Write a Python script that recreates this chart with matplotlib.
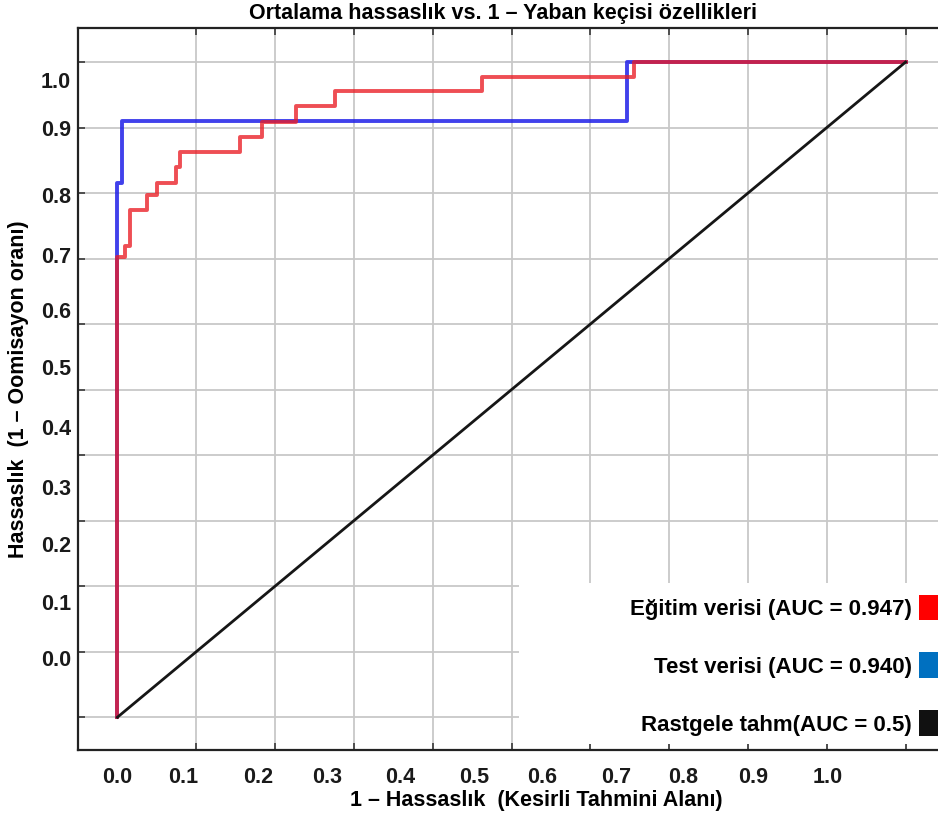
import numpy as np
import matplotlib
matplotlib.use('Agg')
import matplotlib.pyplot as plt
from matplotlib.patches import Patch, Rectangle

plt.rcParams['font.family'] = ['Liberation Sans', 'DejaVu Sans']
plt.rcParams['font.weight'] = 'bold'

# ROC egrileri (kose noktalari, steps-pre ile cizilir)
egitim_fpr = [0.0, 0.010, 0.0165, 0.038, 0.050, 0.074, 0.079, 0.155, 0.184, 0.226, 0.276, 0.463, 0.656, 1.0]
egitim_tpr = [0.0, 0.702, 0.720, 0.774, 0.797, 0.815, 0.840, 0.863, 0.886, 0.909, 0.933, 0.956, 0.977, 1.0]
test_fpr = [0.0, 0.006, 0.647, 1.0]
test_tpr = [0.0, 0.815, 0.910, 1.0]
rastgele = [0.0, 1.0]

etiketler = ['Eğitim verisi (AUC = 0.947)', 'Test verisi (AUC = 0.940)', 'Rastgele tahm(AUC = 0.5)']
renkler = ['#ff0000', '#0070c0', '#111111']

# eksen yazilari (resimdeki gibi kaymis konumlarda)
tick_metin = ['0.0', '0.1', '0.2', '0.3', '0.4', '0.5', '0.6', '0.7', '0.8', '0.9', '1.0']
x_yazi_konum = [0.0, 0.084, 0.179, 0.266, 0.359, 0.453, 0.539, 0.633, 0.718, 0.806, 0.901]
y_yazi_konum = [0.090, 0.176, 0.264, 0.351, 0.443, 0.534, 0.621, 0.705, 0.797, 0.899, 0.973]
izgara = np.arange(0, 11) / 10

fig = plt.figure(figsize=(9.38, 8.13), dpi=100)
ax = fig.add_axes([78 / 938, 63 / 813, 867 / 938, 722 / 813])
ax.set_xlim(-0.05, 1.05)
ax.set_ylim(-0.05, 1.052)

ax.plot(test_fpr, test_tpr, drawstyle='steps-pre', color='#2020e8', lw=2.8, alpha=0.85, zorder=3)
ax.plot(egitim_fpr, egitim_tpr, drawstyle='steps-pre', color='#ea1c24', lw=2.8, alpha=0.78, zorder=4)
ax.plot(rastgele, rastgele, color='#161616', lw=2.0, zorder=5)

ax.set_xticks(x_yazi_konum)
ax.set_xticklabels(tick_metin)
ax.set_yticks(y_yazi_konum)
ax.set_yticklabels(tick_metin)
ax.set_xticks(izgara, minor=True)
ax.set_yticks(izgara, minor=True)
ax.tick_params(which='major', length=0, labelsize=15.5, colors='#1a1a1a')
ax.tick_params(axis='x', which='major', pad=12)
ax.tick_params(axis='y', which='major', pad=5)
ax.tick_params(which='minor', direction='in', length=5, width=1.3, color='#444444',
               top=True, bottom=True, left=True, right=False)
ax.grid(which='minor', color='#c8c8c8', lw=1.3)
ax.set_axisbelow(True)

for s in ax.spines.values():
    s.set_linewidth(1.6)
    s.set_color('#222222')

# lejant alani izgarayi kapatir
ax.add_patch(Rectangle((0.509, -0.041), 0.6, 0.2456, facecolor='white', edgecolor='none', zorder=1))

ax.set_xlabel('1 – Hassaslık  (Kesirli Tahmini Alanı)', fontsize=15.5, fontweight='bold')
ax.xaxis.set_label_coords(0.529, -0.056)
ax.set_ylabel('Hassaslık  (1 – Oomisayon oranı)', fontsize=15.5, fontweight='bold')
ax.yaxis.set_label_coords(-0.057, 0.5)

fig.text(503 / 938, 1 - 14 / 813, 'Ortalama hassaslık vs. 1 – Yaban keçisi özellikleri',
         ha='center', va='center', fontsize=15.5, fontweight='bold')

tutamaklar = [Patch(facecolor=r, edgecolor='none') for r in renkler]
ax.legend(tutamaklar, etiketler, loc='lower right', bbox_to_anchor=(946 / 938, 77 / 813),
          bbox_transform=fig.transFigure, frameon=False, markerfirst=False,
          prop={'weight': 'bold', 'size': 16}, handlelength=1.2, handleheight=1.4,
          handletextpad=0.35, labelspacing=1.45, borderpad=0, borderaxespad=0)

fig.savefig('out.png', dpi=100)
